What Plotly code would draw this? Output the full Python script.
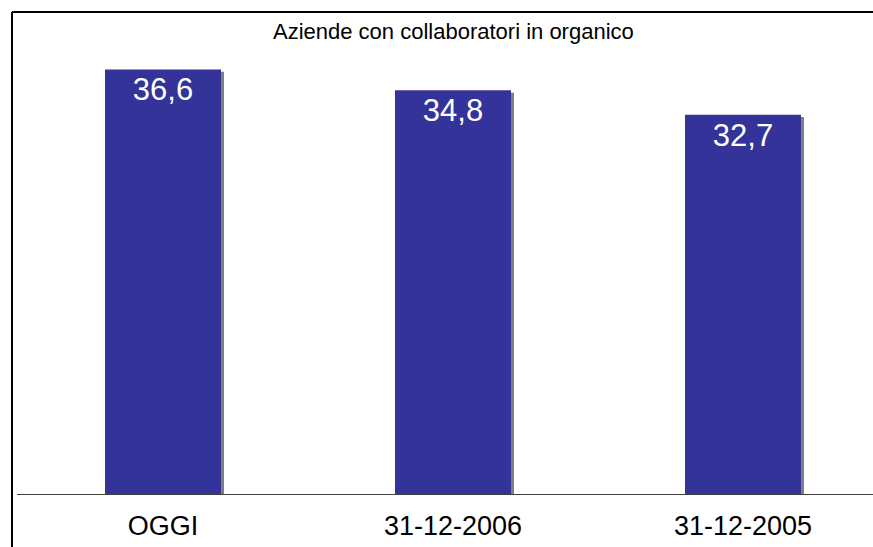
import plotly.graph_objects as go

# ── Data ──────────────────────────────────────────────────────────────────────
categories = ["OGGI", "31-12-2006", "31-12-2005"]
values = [36.6, 34.8, 32.7]
value_labels = ["36,6", "34,8", "32,7"]
title_text = "Aziende con collaboratori in organico"

_BAR = "#333399"
_SHADOW = "#808080"
_FONT = "Liberation Sans, Arial, sans-serif"

W, H = 873, 547
M = dict(l=17, r=0, t=30, b=53)
PW = W - M["l"] - M["r"]
PH = H - M["t"] - M["b"]


def px_x(x):
    # page pixels -> paper fraction
    return (x - M["l"]) / PW


def px_y(y):
    return 1 - (y - M["t"]) / PH


fig = go.Figure()

# drop shadow: same bars shifted a few pixels right/down
fig.add_bar(
    x=categories, y=[v - 0.2 for v in values],
    width=0.4, offset=-0.2 + 3 / 290,
    marker=dict(color=_SHADOW, line_width=0),
    hoverinfo="skip", showlegend=False,
)
fig.add_bar(
    x=categories, y=values,
    width=0.4, offset=-0.2,
    marker=dict(color=_BAR, line_width=0),
    text=value_labels,
    textposition="inside",
    insidetextanchor="end",
    textangle=0,
    textfont=dict(family=_FONT, size=31, color="white"),
    showlegend=False,
)

fig.update_layout(
    width=W, height=H,
    margin=M,
    barmode="overlay",
    paper_bgcolor="white",
    plot_bgcolor="white",
    font=dict(family=_FONT, color="black"),
    xaxis=dict(
        range=[-146 / 290, -146 / 290 + PW / 290],
        showgrid=False, zeroline=False,
        showline=True, linecolor="#404040", linewidth=1,
        ticks="", tickfont=dict(size=27, color="black"),
        ticklabelstandoff=8,
    ),
    yaxis=dict(
        range=[0, 40], visible=False, showgrid=False, zeroline=False,
    ),
    annotations=[dict(
        text=title_text, xref="paper", yref="paper",
        x=px_x(454), y=px_y(31), xanchor="center", yanchor="middle",
        showarrow=False, font=dict(size=22, color="black"),
    )],
    shapes=[
        dict(type="line", xref="paper", yref="paper",
             x0=px_x(12), x1=px_x(880), y0=px_y(12), y1=px_y(12),
             line=dict(color="black", width=2)),
        dict(type="line", xref="paper", yref="paper",
             x0=px_x(12), x1=px_x(12), y0=px_y(12), y1=px_y(560),
             line=dict(color="black", width=2)),
    ],
)

fig.write_html(
    "out.html",
    config={"displayModeBar": False},
    post_script="document.body.style.margin='0';document.body.style.overflow='hidden';",
)
